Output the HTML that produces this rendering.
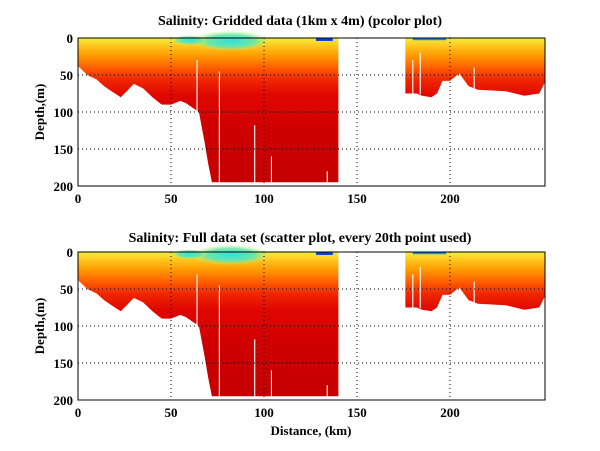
<!DOCTYPE html>
<html><head><style>body{margin:0;background:#fff}svg{display:block}text{font-family:"Liberation Serif",serif;font-weight:bold;font-size:13px;fill:#000}</style></head><body>
<svg width="600" height="451" viewBox="0 0 600 451" xmlns="http://www.w3.org/2000/svg">
<defs>
<linearGradient id="g" gradientUnits="userSpaceOnUse" x1="0" y1="0" x2="0" y2="200">
<stop offset="0" stop-color="#f0f040"/>
<stop offset="0.05" stop-color="#ffc820"/>
<stop offset="0.12" stop-color="#ff9a00"/>
<stop offset="0.2" stop-color="#ff6000"/>
<stop offset="0.28" stop-color="#f02800"/>
<stop offset="0.38" stop-color="#e00800"/>
<stop offset="0.6" stop-color="#d00000"/>
<stop offset="1" stop-color="#c40000"/>
</linearGradient>
<radialGradient id="c" gradientUnits="objectBoundingBox"><stop offset="0" stop-color="#30e0e0"/><stop offset="0.6" stop-color="#60e8b0" stop-opacity="0.9"/><stop offset="1" stop-color="#d0f060" stop-opacity="0"/></radialGradient>
<g id="data">
<path fill="url(#g)" d="M0,0 H140 V195 H72 L70,170 L68,140 L65,100 L62,95 L58,88 L55,85 L50,90 L45,90 L40,80 L35,68 L30,62 L27,70 L23,80 L18,72 L14,65 L10,56 L5,50 L0,38 Z"/>
<path fill="url(#g)" d="M176,0 H251 V60 L248,75 L240,78 L230,72 L215,70 L210,65 L205,48 L200,58 L196,58 L193,75 L190,80 L185,78 L182,75 L176,75 Z"/>
<ellipse cx="82" cy="4" rx="22" ry="14" fill="url(#c)"/>
<ellipse cx="60" cy="3" rx="10" ry="7" fill="url(#c)"/>
<rect x="128" y="0" width="9" height="4" fill="#0040e0"/>
<rect x="180" y="0" width="18" height="3" fill="#2080f0"/>
<g stroke="#fff" stroke-width="0.6">
<line x1="64" y1="30" x2="64" y2="195"/><line x1="76" y1="45" x2="76" y2="195"/>
<line x1="95" y1="118" x2="95" y2="195"/><line x1="104" y1="160" x2="104" y2="195"/>
<line x1="134" y1="180" x2="134" y2="195"/><line x1="180" y1="30" x2="180" y2="76"/>
<line x1="184" y1="20" x2="184" y2="76"/><line x1="213" y1="40" x2="213" y2="70"/>
</g>
</g>
</defs>
<text x="300" y="25" text-anchor="middle" style="font-size:14px">Salinity: Gridded data (1km x 4m) (pcolor plot)</text>
<text x="300" y="242" text-anchor="middle" style="font-size:14px">Salinity: Full data set (scatter plot, every 20th point used)</text>
<g transform="translate(78,38) scale(1.86,0.74)"><use href="#data"/></g>
<g transform="translate(78,252) scale(1.86,0.74)"><use href="#data"/></g>
<g stroke="#000" stroke-width="1" stroke-dasharray="1,3" fill="none">
<path d="M171,38V186M264,38V186M357,38V186M450,38V186M78,75H545M78,112H545M78,149H545"/>
<path d="M171,252V400M264,252V400M357,252V400M450,252V400M78,289H545M78,326H545M78,363H545"/>
</g>
<g stroke="#000" fill="none"><rect x="78" y="38" width="467" height="148"/><rect x="78" y="252" width="467" height="148"/></g>
<g text-anchor="middle">
<text x="78" y="203">0</text><text x="171" y="203">50</text><text x="264" y="203">100</text><text x="357" y="203">150</text><text x="450" y="203">200</text>
<text x="78" y="417">0</text><text x="171" y="417">50</text><text x="264" y="417">100</text><text x="357" y="417">150</text><text x="450" y="417">200</text>
</g>
<g text-anchor="end">
<text x="73" y="43">0</text><text x="73" y="80">50</text><text x="73" y="117">100</text><text x="73" y="154">150</text><text x="73" y="191">200</text>
<text x="73" y="257">0</text><text x="73" y="294">50</text><text x="73" y="331">100</text><text x="73" y="368">150</text><text x="73" y="405">200</text>
</g>
<text transform="translate(44,112) rotate(-90)" text-anchor="middle">Depth,(m)</text>
<text transform="translate(44,326) rotate(-90)" text-anchor="middle">Depth,(m)</text>
<text x="311" y="435" text-anchor="middle">Distance, (km)</text>
</svg>
</body></html>
